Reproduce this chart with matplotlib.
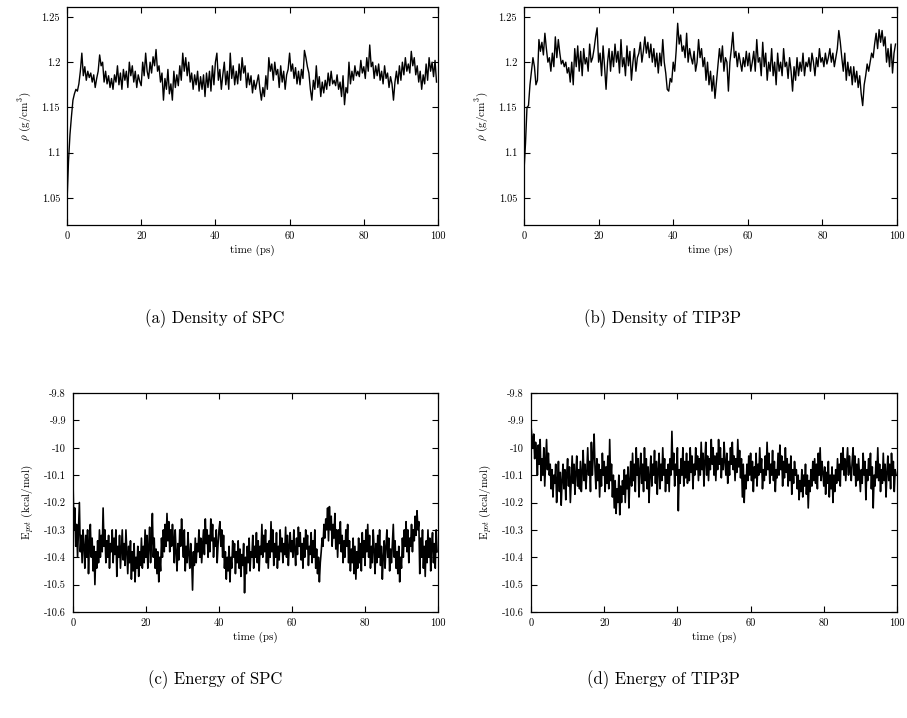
import numpy as np
import matplotlib
matplotlib.use("Agg")
import matplotlib.pyplot as plt
from matplotlib.ticker import FuncFormatter, MultipleLocator

plt.rcParams['font.family'] = ['cmr10', 'DejaVu Serif']
plt.rcParams['mathtext.fontset'] = 'cm'
plt.rcParams['axes.unicode_minus'] = False
plt.rcParams['axes.formatter.use_mathtext'] = False

# density traces, one value every 0.4 ps (g/cm^3)
dt_rho = 0.4
rho_spc = [
    1.045, 1.09, 1.12, 1.14, 1.158, 1.165, 1.17, 1.168, 1.176, 1.19,
    1.21, 1.185, 1.195, 1.18, 1.19, 1.183, 1.188, 1.178, 1.186, 1.172,
    1.182, 1.19, 1.208, 1.196, 1.2, 1.178, 1.19, 1.176, 1.185, 1.172,
    1.182, 1.17, 1.186, 1.178, 1.196, 1.175, 1.188, 1.17, 1.192, 1.18,
    1.19, 1.172, 1.2, 1.185, 1.196, 1.178, 1.19, 1.172, 1.186, 1.179,
    1.174, 1.2, 1.185, 1.21, 1.19, 1.182, 1.2, 1.188, 1.206, 1.196,
    1.214, 1.19, 1.196, 1.178, 1.188, 1.158, 1.182, 1.17, 1.192, 1.165,
    1.176, 1.158, 1.19, 1.172, 1.186, 1.174, 1.196, 1.18, 1.21, 1.19,
    1.205, 1.185, 1.2, 1.178, 1.188, 1.17, 1.186, 1.175, 1.19, 1.168,
    1.184, 1.17, 1.186, 1.162, 1.188, 1.172, 1.19, 1.168, 1.196, 1.175,
    1.2, 1.21, 1.18, 1.192, 1.17, 1.186, 1.2, 1.175, 1.19, 1.17,
    1.21, 1.182, 1.196, 1.175, 1.19, 1.176, 1.198, 1.18, 1.205, 1.188,
    1.196, 1.172, 1.188, 1.175, 1.185, 1.166, 1.18, 1.17, 1.178, 1.186,
    1.17, 1.158, 1.172, 1.162, 1.185, 1.17, 1.205, 1.19, 1.198, 1.18,
    1.2, 1.186, 1.192, 1.172, 1.196, 1.178, 1.19, 1.17, 1.186, 1.192,
    1.21, 1.19, 1.198, 1.182, 1.194, 1.176, 1.19, 1.175, 1.192, 1.182,
    1.213, 1.205, 1.195, 1.188, 1.17, 1.158, 1.18, 1.17, 1.196, 1.172,
    1.184, 1.162, 1.178, 1.166, 1.18, 1.17, 1.188, 1.174, 1.19, 1.176,
    1.18, 1.174, 1.186, 1.17, 1.178, 1.162, 1.185, 1.153, 1.172, 1.166,
    1.2, 1.176, 1.19, 1.18, 1.196, 1.185, 1.19, 1.184, 1.202, 1.188,
    1.195, 1.182, 1.205, 1.19, 1.219, 1.195, 1.2, 1.182, 1.196, 1.185,
    1.198, 1.18, 1.19, 1.176, 1.196, 1.182, 1.188, 1.172, 1.184, 1.176,
    1.158, 1.178, 1.19, 1.176, 1.196, 1.18, 1.2, 1.186, 1.205, 1.19,
    1.198, 1.188, 1.212, 1.196, 1.205, 1.186, 1.196, 1.178, 1.19, 1.17,
    1.186, 1.176, 1.198, 1.18, 1.205, 1.19, 1.2, 1.184, 1.202, 1.178,
]
rho_tip3p = [
    1.08, 1.11, 1.15, 1.152, 1.175, 1.19, 1.205, 1.195, 1.175, 1.18,
    1.225, 1.212, 1.222, 1.208, 1.232, 1.215, 1.2, 1.205, 1.19, 1.21,
    1.195, 1.228, 1.205, 1.225, 1.21, 1.198, 1.202, 1.195, 1.2, 1.188,
    1.194, 1.178, 1.2, 1.175, 1.215, 1.195, 1.218, 1.19, 1.212, 1.185,
    1.215, 1.198, 1.205, 1.19, 1.22, 1.2, 1.205, 1.215, 1.228, 1.238,
    1.2, 1.21, 1.185, 1.218, 1.195, 1.17, 1.2, 1.215, 1.19, 1.212,
    1.195, 1.22, 1.2, 1.212, 1.188, 1.225, 1.195, 1.205, 1.185, 1.218,
    1.196, 1.212, 1.18, 1.2, 1.215, 1.19, 1.205, 1.21, 1.222, 1.2,
    1.212, 1.228, 1.21, 1.222, 1.205, 1.22, 1.2, 1.215, 1.195, 1.21,
    1.188, 1.21, 1.196, 1.225, 1.2, 1.188, 1.17, 1.168, 1.182, 1.178,
    1.2, 1.19, 1.213, 1.243, 1.22, 1.23, 1.212, 1.218, 1.205, 1.232,
    1.2, 1.215, 1.205, 1.198, 1.212, 1.19, 1.2, 1.225, 1.205, 1.215,
    1.195, 1.205, 1.18, 1.2, 1.175, 1.19, 1.168, 1.185, 1.16, 1.178,
    1.196, 1.215, 1.2, 1.218, 1.19, 1.205, 1.2, 1.168, 1.2, 1.215,
    1.233, 1.205, 1.212, 1.195, 1.21, 1.2, 1.19, 1.205, 1.195, 1.212,
    1.196, 1.21, 1.19, 1.2, 1.212, 1.19, 1.225, 1.2, 1.205, 1.185,
    1.222, 1.195, 1.21, 1.18, 1.2, 1.19, 1.215, 1.185, 1.2, 1.175,
    1.21, 1.19, 1.2, 1.185, 1.215, 1.195, 1.2, 1.182, 1.205, 1.19,
    1.168, 1.195, 1.18, 1.205, 1.185, 1.2, 1.19, 1.21, 1.185, 1.2,
    1.195, 1.205, 1.19, 1.21, 1.2, 1.185, 1.205, 1.195, 1.215, 1.2,
    1.205, 1.195, 1.21, 1.198, 1.205, 1.215, 1.2, 1.21, 1.195, 1.205,
    1.215, 1.235, 1.222, 1.205, 1.19, 1.21, 1.18, 1.2, 1.185, 1.195,
    1.175, 1.195, 1.178, 1.19, 1.172, 1.185, 1.165, 1.152, 1.175, 1.185,
    1.198, 1.19, 1.2, 1.21, 1.205, 1.22, 1.232, 1.215, 1.236, 1.222,
    1.235, 1.218, 1.228, 1.2, 1.215, 1.195, 1.22, 1.188, 1.21, 1.22,
]

# potential energy traces, one value every 0.25 ps (kcal/mol)
dt_e = 0.25
e_spc = [
    -10.12, -10.3, -10.22, -10.36, -10.28, -10.4, -10.3, -10.2, -10.38, -10.32,
    -10.42, -10.3, -10.36, -10.44, -10.32, -10.4, -10.3, -10.46, -10.35, -10.28,
    -10.4, -10.33, -10.45, -10.36, -10.5, -10.38, -10.44, -10.34, -10.42, -10.3,
    -10.4, -10.32, -10.38, -10.22, -10.36, -10.3, -10.42, -10.34, -10.4, -10.32,
    -10.44, -10.35, -10.38, -10.3, -10.42, -10.33, -10.39, -10.3, -10.47, -10.36,
    -10.4, -10.32, -10.44, -10.37, -10.3, -10.41, -10.35, -10.43, -10.3, -10.38,
    -10.46, -10.36, -10.42, -10.34, -10.48, -10.38, -10.45, -10.35, -10.49, -10.4,
    -10.44, -10.36, -10.47, -10.38, -10.43, -10.33, -10.44, -10.36, -10.42, -10.3,
    -10.4, -10.32, -10.44, -10.36, -10.29, -10.42, -10.34, -10.24, -10.4, -10.33,
    -10.44, -10.37, -10.46, -10.38, -10.49, -10.4, -10.45, -10.33, -10.4, -10.3,
    -10.38, -10.28, -10.36, -10.24, -10.34, -10.27, -10.38, -10.3, -10.36, -10.28,
    -10.34, -10.42, -10.3, -10.38, -10.45, -10.35, -10.41, -10.3, -10.36, -10.26,
    -10.34, -10.4, -10.3, -10.45, -10.36, -10.42, -10.31, -10.39, -10.44, -10.35,
    -10.4, -10.52, -10.38, -10.43, -10.33, -10.42, -10.35, -10.38, -10.3, -10.4,
    -10.33, -10.42, -10.36, -10.3, -10.39, -10.26, -10.35, -10.3, -10.4, -10.32,
    -10.38, -10.26, -10.34, -10.28, -10.4, -10.33, -10.36, -10.3, -10.42, -10.35,
    -10.3, -10.27, -10.36, -10.3, -10.4, -10.32, -10.44, -10.38, -10.48, -10.4,
    -10.45, -10.36, -10.49, -10.4, -10.44, -10.34, -10.4, -10.35, -10.46, -10.38,
    -10.42, -10.34, -10.44, -10.37, -10.47, -10.39, -10.43, -10.35, -10.53, -10.4,
    -10.46, -10.36, -10.42, -10.33, -10.45, -10.38, -10.4, -10.32, -10.44, -10.36,
    -10.4, -10.31, -10.42, -10.34, -10.45, -10.36, -10.39, -10.28, -10.4, -10.32,
    -10.38, -10.3, -10.42, -10.35, -10.44, -10.34, -10.4, -10.27, -10.38, -10.3,
    -10.43, -10.35, -10.4, -10.31, -10.44, -10.36, -10.41, -10.3, -10.38, -10.33,
    -10.42, -10.35, -10.39, -10.29, -10.4, -10.32, -10.43, -10.36, -10.31, -10.38,
    -10.34, -10.4, -10.3, -10.37, -10.43, -10.33, -10.39, -10.29, -10.36, -10.31,
    -10.41, -10.35, -10.44, -10.33, -10.4, -10.3, -10.37, -10.32, -10.43, -10.36,
    -10.39, -10.31, -10.42, -10.34, -10.4, -10.3, -10.44, -10.37, -10.46, -10.4,
    -10.49, -10.42, -10.38, -10.33, -10.36, -10.28, -10.33, -10.26, -10.3, -10.22,
    -10.34, -10.215, -10.3, -10.25, -10.36, -10.28, -10.33, -10.24, -10.37, -10.3,
    -10.4, -10.3, -10.35, -10.27, -10.38, -10.32, -10.42, -10.34, -10.4, -10.3,
    -10.36, -10.28, -10.42, -10.34, -10.45, -10.37, -10.42, -10.33, -10.46, -10.36,
    -10.48, -10.38, -10.44, -10.33, -10.42, -10.35, -10.45, -10.31, -10.4, -10.34,
    -10.43, -10.3, -10.38, -10.28, -10.4, -10.32, -10.44, -10.36, -10.42, -10.3,
    -10.37, -10.46, -10.35, -10.42, -10.32, -10.4, -10.3, -10.43, -10.36, -10.48,
    -10.4, -10.34, -10.44, -10.36, -10.3, -10.4, -10.33, -10.45, -10.37, -10.42,
    -10.35, -10.28, -10.4, -10.34, -10.44, -10.38, -10.46, -10.36, -10.49, -10.4,
    -10.44, -10.33, -10.4, -10.3, -10.36, -10.27, -10.38, -10.3, -10.42, -10.33,
    -10.36, -10.28, -10.38, -10.3, -10.34, -10.25, -10.32, -10.23, -10.3, -10.27,
    -10.46, -10.33, -10.4, -10.3, -10.44, -10.36, -10.47, -10.34, -10.42, -10.3,
    -10.4, -10.33, -10.45, -10.36, -10.31, -10.42, -10.35, -10.44, -10.3, -10.38,
]
e_tip3p = [
    -9.92, -9.96, -10.0, -9.95, -10.04, -9.98, -10.02, -10.1, -9.99, -10.06,
    -9.97, -10.12, -10.04, -10.1, -10.0, -10.14, -10.05, -9.97, -10.08, -10.02,
    -10.1, -10.06, -10.15, -10.08, -10.18, -10.1, -10.13, -10.06, -10.2, -10.12,
    -10.05, -10.16, -10.09, -10.21, -10.12, -10.06, -10.15, -10.08, -10.19, -10.1,
    -10.04, -10.14, -10.07, -10.2, -10.11, -10.03, -10.13, -10.06, -10.17, -10.09,
    -10.03, -10.14, -10.08, -10.15, -10.05, -10.16, -10.09, -10.01, -10.12, -10.06,
    -10.15, -10.09, -10.0, -10.1, -10.05, -10.16, -9.98, -10.1, -10.03, -9.95,
    -10.08, -10.15, -10.04, -10.12, -10.06, -10.18, -10.08, -10.14, -10.02, -10.1,
    -10.05, -10.16, -10.07, -10.13, -10.03, -10.15, -9.97, -10.12, -10.06, -10.18,
    -10.1, -10.22, -10.12, -10.24, -10.15, -10.2, -10.1, -10.245, -10.14, -10.2,
    -10.12, -10.17, -10.08, -10.2, -10.1, -10.15, -10.07, -10.22, -10.12, -10.05,
    -10.14, -10.02, -10.12, -10.06, -10.16, -10.0, -10.1, -10.04, -10.18, -10.08,
    -10.02, -10.13, -10.06, -10.16, -10.0, -10.12, -10.04, -10.15, -10.07, -10.2,
    -10.1, -10.03, -10.14, -10.06, -10.1, -10.01, -10.13, -10.05, -10.17, -10.08,
    -10.02, -10.15, -10.06, -10.12, -10.0, -10.1, -10.04, -10.16, -10.08, -10.13,
    -10.06, -10.16, -10.04, -10.1, -9.94, -10.08, -10.02, -10.14, -10.06, -10.1,
    -10.0, -10.23, -10.08, -10.13, -10.04, -10.1, -10.0, -10.14, -10.05, -10.11,
    -10.02, -10.13, -10.05, -10.12, -10.0, -10.09, -10.03, -10.15, -10.06, -10.1,
    -10.0, -10.08, -10.03, -10.12, -10.04, -10.1, -9.98, -10.08, -10.02, -10.14,
    -10.05, -9.98, -10.1, -10.03, -10.12, -10.04, -10.08, -9.97, -10.06, -10.0,
    -10.1, -10.03, -10.12, -10.02, -10.08, -9.97, -10.06, -10.0, -10.11, -10.04,
    -10.08, -9.98, -10.05, -10.1, -10.02, -10.13, -10.05, -10.1, -10.0, -10.06,
    -9.98, -10.08, -10.03, -10.12, -10.04, -10.09, -9.97, -10.07, -10.01, -10.11,
    -10.04, -10.18, -10.06, -10.2, -10.1, -10.15, -10.06, -10.12, -10.03, -10.1,
    -10.02, -10.12, -10.05, -10.16, -10.07, -10.11, -10.02, -10.14, -10.06, -10.1,
    -10.0, -10.09, -10.04, -10.15, -10.08, -10.12, -10.03, -10.1, -9.98, -10.08,
    -10.02, -10.13, -10.06, -10.1, -10.01, -10.12, -10.05, -10.16, -10.08, -10.11,
    -10.02, -10.1, -9.99, -10.08, -10.03, -10.14, -10.05, -10.11, -10.0, -10.09,
    -10.04, -10.14, -10.06, -10.12, -10.03, -10.17, -10.08, -10.13, -10.05, -10.1,
    -10.08, -10.15, -10.1, -10.19, -10.12, -10.16, -10.08, -10.18, -10.1, -10.14,
    -10.06, -10.17, -10.1, -10.22, -10.12, -10.16, -10.08, -10.14, -10.05, -10.12,
    -10.04, -10.13, -10.06, -10.15, -10.02, -10.1, -10.0, -10.12, -10.05, -10.09,
    -10.14, -10.07, -10.17, -10.09, -10.13, -10.05, -10.18, -10.1, -10.15, -10.07,
    -10.2, -10.1, -10.16, -10.08, -10.13, -10.04, -10.12, -10.06, -10.14, -10.02,
    -10.08, -10.0, -10.1, -10.04, -10.12, -10.06, -10.0, -10.1, -10.03, -10.08,
    -10.12, -10.05, -10.0, -10.1, -10.03, -10.14, -10.06, -10.12, -10.04, -10.1,
    -10.16, -10.08, -10.13, -10.02, -10.1, -10.05, -10.19, -10.08, -10.12, -10.04,
    -10.1, -10.02, -10.15, -10.07, -10.22, -10.1, -10.14, -10.05, -10.11, -10.0,
    -10.12, -10.06, -10.16, -10.08, -10.13, -10.02, -10.12, -10.06, -10.18, -10.09,
    -10.03, -10.12, -10.06, -10.15, -10.02, -10.1, -10.05, -10.16, -10.08, -10.1,
]

captions = ["(a) Density of SPC", "(b) Density of TIP3P",
            "(c) Energy of SPC", "(d) Energy of TIP3P"]
rho_label = r"$\rho$ (g/cm$^3$)"
e_label = r"E$_{pot}$ (kcal/mol)"

fig = plt.figure(figsize=(9.07, 7.18), dpi=100)

W, H = 907.0, 718.0


def box(l, t, r, b):
    return [l / W, 1 - b / H, (r - l) / W, (b - t) / H]


panels = [
    (box(67, 7, 438, 225), rho_spc, dt_rho, rho_label, (1.02, 1.261), 0.05, 1.0),
    (box(524, 7, 897, 225), rho_tip3p, dt_rho, rho_label, (1.02, 1.261), 0.05, 1.0),
    (box(73, 393, 438, 612), e_spc, dt_e, e_label, (-10.6, -9.8), 0.1, 1.2),
    (box(531, 393, 897, 612), e_tip3p, dt_e, e_label, (-10.6, -9.8), 0.1, 1.2),
]

fmt = FuncFormatter(lambda v, p: "%g" % round(v, 3))

for rect, vals, dt, ylab, ylim, ystep, lw in panels:
    ax = fig.add_axes(rect)
    t = np.arange(len(vals)) * dt
    ax.plot(t, vals, color="black", lw=lw)
    ax.set_xlim(0, 100)
    ax.set_ylim(*ylim)
    ax.xaxis.set_major_locator(MultipleLocator(20))
    ax.yaxis.set_major_locator(MultipleLocator(ystep))
    ax.xaxis.set_major_formatter(fmt)
    ax.yaxis.set_major_formatter(fmt)
    ax.tick_params(direction="in", length=4, width=0.8, top=True, right=True,
                   labelsize=7.5, pad=5)
    for s in ax.spines.values():
        s.set_linewidth(0.9)
    ax.set_xlabel("time (ps)", fontsize=8, labelpad=2)
    ax.set_ylabel(ylab, fontsize=8, labelpad=6)

fig.text(215 / W, 1 - 319 / H, captions[0], ha="center", va="center", fontsize=12)
fig.text(663 / W, 1 - 319 / H, captions[1], ha="center", va="center", fontsize=12)
fig.text(215 / W, 1 - 680 / H, captions[2], ha="center", va="center", fontsize=12)
fig.text(663 / W, 1 - 680 / H, captions[3], ha="center", va="center", fontsize=12)

fig.savefig("out.png", dpi=100)
